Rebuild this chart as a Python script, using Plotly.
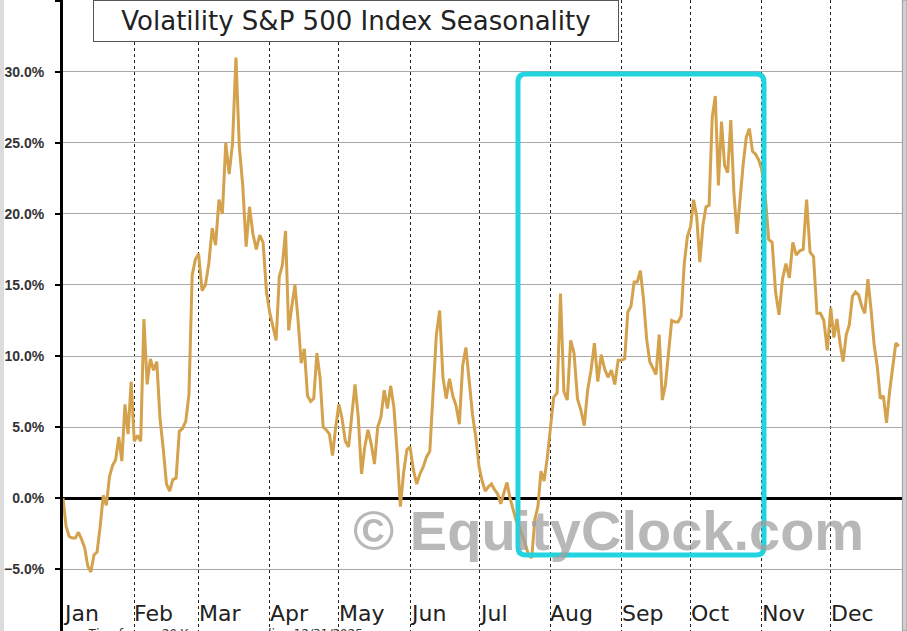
import pandas as pd
import plotly.graph_objects as go

# Seasonal profile (%), one list per month
jan = [0.0, -2.0, -2.7, -2.8, -2.8, -2.4, -2.9, -3.5, -4.8, -5.2, -4.0, -3.8,
       -2.0, 0.2, -0.5, 1.5, 2.3, 2.7, 4.3, 2.6, 6.6, 4.5, 8.2]
feb = [4.0, 4.4, 4.0, 12.6, 8.0, 9.8, 9.0, 9.6, 5.6, 3.5, 1.0, 0.5, 1.3, 1.4,
       4.7, 4.9, 5.4, 7.3, 15.7, 16.8]
mar = [17.2, 14.6, 15.0, 16.5, 19.0, 17.8, 21.0, 20.0, 25.0, 22.8, 25.0, 31.0,
       24.7, 22.0, 17.7, 20.5, 18.6, 17.5, 18.5, 18.0, 14.5]
apr = [13.0, 12.0, 11.1, 15.6, 16.4, 18.8, 11.8, 13.5, 15.0, 12.5, 9.5, 10.5,
       7.2, 6.8, 7.0, 10.2, 8.5, 5.0, 4.8, 4.5, 3.0, 5.0]
may = [6.6, 5.6, 4.0, 3.6, 5.8, 8.0, 5.7, 1.7, 3.6, 4.8, 3.8, 2.4, 5.0, 5.7,
       7.6, 6.3, 7.9, 6.4, 3.2, -0.6, 1.8, 3.4]
jun = [3.6, 2.0, 1.0, 1.7, 2.2, 2.9, 3.3, 7.5, 11.5, 13.2, 8.5, 7.0, 8.4, 7.2,
       6.5, 5.2, 9.3, 10.6, 8.3, 5.9, 4.3]
jul = [2.2, 1.2, 0.5, 0.8, 1.0, 0.6, 0.3, -0.4, 0.4, 1.1, 0.0, -0.9, -1.6,
       -2.0, -2.6, -3.3, -4.0, -4.2, -1.5, -0.6, 1.9, 1.2, 2.8]
aug = [4.8, 7.1, 7.4, 14.4, 7.5, 6.9, 11.1, 10.2, 7.0, 6.2, 5.1, 7.6, 9.0,
       10.9, 8.2, 10.1, 9.1, 8.5, 9.0, 8.0, 9.7]
sep = [9.7, 9.8, 13.1, 13.5, 15.2, 15.2, 16.0, 14.0, 11.2, 9.6, 9.2, 8.7, 11.5,
       6.9, 8.0, 10.3, 12.5, 12.4, 12.4, 12.8, 16.5, 18.4]
oct_ = [19.1, 21.0, 19.8, 16.6, 19.2, 20.5, 20.6, 26.8, 28.3, 22.0, 26.5, 23.4,
        22.9, 26.6, 21.5, 18.6, 21.2, 23.5, 25.4, 26.0, 24.4, 24.2, 23.8]
nov = [23.1, 21.3, 18.2, 18.0, 14.5, 12.9, 15.4, 16.5, 15.5, 18.0, 17.1, 17.4,
       17.5, 21.0, 17.3, 17.0, 13.0, 13.0, 12.5, 10.4]
dec = [13.4, 11.3, 12.6, 10.9, 9.6, 11.5, 12.2, 14.2, 14.5, 14.3, 13.5, 13.0,
       15.4, 13.3, 10.8, 9.3, 7.0, 7.2, 5.3, 7.5, 9.3, 10.9, 10.7]

month_names = ["Jan", "Feb", "Mar", "Apr", "May", "Jun",
               "Jul", "Aug", "Sep", "Oct", "Nov", "Dec"]
monthly_values = [jan, feb, mar, apr, may, jun, jul, aug, sep, oct_, nov, dec]

# spread each month's readings across that month
dates = []
values = []
month_starts = []
for i, vals in enumerate(monthly_values):
    start = pd.Timestamp(2025, i + 1, 1)
    end = start + pd.offsets.MonthBegin(1)
    month_starts.append(start)
    dates.extend(pd.date_range(start, end, periods=len(vals) + 1)[:-1])
    values.extend(vals)

fig = go.Figure()
fig.add_trace(go.Scatter(
    x=dates, y=values, mode="lines",
    line=dict(color="#D4A24C", width=3),
    hoverinfo="x+y",
))

fig.update_layout(
    width=907, height=631,
    margin=dict(l=63, r=5, t=0, b=0, pad=0),
    paper_bgcolor="white", plot_bgcolor="white",
    showlegend=False,
    xaxis=dict(
        type="date", automargin=False,
        range=["2025-01-01", "2026-01-01"],
        tick0="2025-01-01", dtick="M1",
        showticklabels=False,
        showgrid=True, gridcolor="#222", gridwidth=1, griddash="dot",
        showline=False, zeroline=False, ticks="",
    ),
    yaxis=dict(
        automargin=False,
        range=[-9.35, 35.05],
        dtick=5, tickformat=".1f", ticksuffix="%",
        tickfont=dict(family="Liberation Sans", size=14, color="#333", weight="bold"),
        ticks="outside", ticklen=5, tickcolor="black", tickwidth=1.5,
        ticklabelstandoff=8,
        showgrid=True, gridcolor="#a8a8a8", gridwidth=1,
        zeroline=True, zerolinecolor="black", zerolinewidth=2.5,
        showline=True, linecolor="black", linewidth=3,
    ),
)

# month names sit just right of each month line, inside the plot
for name, start in zip(month_names, month_starts):
    fig.add_annotation(
        text=name, x=start, xref="x", y=0.0285, yref="paper",
        xanchor="left", yanchor="middle", showarrow=False, xshift=-2,
        font=dict(family="DejaVu Sans", size=22, color="#222"),
    )

# title box
fig.add_annotation(
    text="Volatility S&P 500 Index Seasonality",
    xref="paper", yref="paper", x=0.349, y=0.966,
    xanchor="center", yanchor="middle",
    showarrow=False, width=518, height=34,
    font=dict(family="DejaVu Sans", size=26, color="#222"),
    bgcolor="white", bordercolor="#555", borderwidth=1, borderpad=3,
)

# watermark
fig.add_annotation(
    text="© EquityClock.com",
    xref="paper", yref="paper", x=0.6496, y=0.160,
    xanchor="center", yanchor="middle", showarrow=False,
    font=dict(family="Liberation Sans", size=56, color="rgba(160,160,160,0.75)", weight="bold"),
)

# footnote (cut off at the bottom edge)
fig.add_annotation(
    text="<i>Timeframe: 20-Year range ending 12/31/2025</i>",
    xref="paper", yref="paper", x=0.027, y=0.0095,
    xanchor="left", yanchor="top", showarrow=False,
    font=dict(family="DejaVu Sans", size=12, color="#333"),
)

# highlight box (rounded corners)
x0, x1, y0, y1 = 0.5423, 0.8355, 0.1204, 0.8827
rx, ry = 0.0095, 0.0127
box_path = (
    f"M {x0 + rx} {y1} L {x1 - rx} {y1} Q {x1} {y1} {x1} {y1 - ry} "
    f"L {x1} {y0 + ry} Q {x1} {y0} {x1 - rx} {y0} "
    f"L {x0 + rx} {y0} Q {x0} {y0} {x0} {y0 + ry} "
    f"L {x0} {y1 - ry} Q {x0} {y1} {x0 + rx} {y1} Z"
)
fig.add_shape(type="path", path=box_path, xref="paper", yref="paper",
              line=dict(color="#22D3E0", width=5), layer="above")

# screenshot border strips
fig.add_shape(type="rect", xref="paper", yref="paper",
              x0=-63 / 839, x1=-59 / 839, y0=0, y1=1,
              fillcolor="#dcdcdc", line_width=0)
fig.add_shape(type="rect", xref="paper", yref="paper",
              x0=1.0005, x1=1.006, y0=0, y1=1,
              fillcolor="#d0d0d0", line=dict(color="#999", width=1))

# drop the browser's default page margin so the figure fills the window
fig.write_html("out.html", config={"displayModeBar": False},
               post_script="document.body.style.margin = '0';")
